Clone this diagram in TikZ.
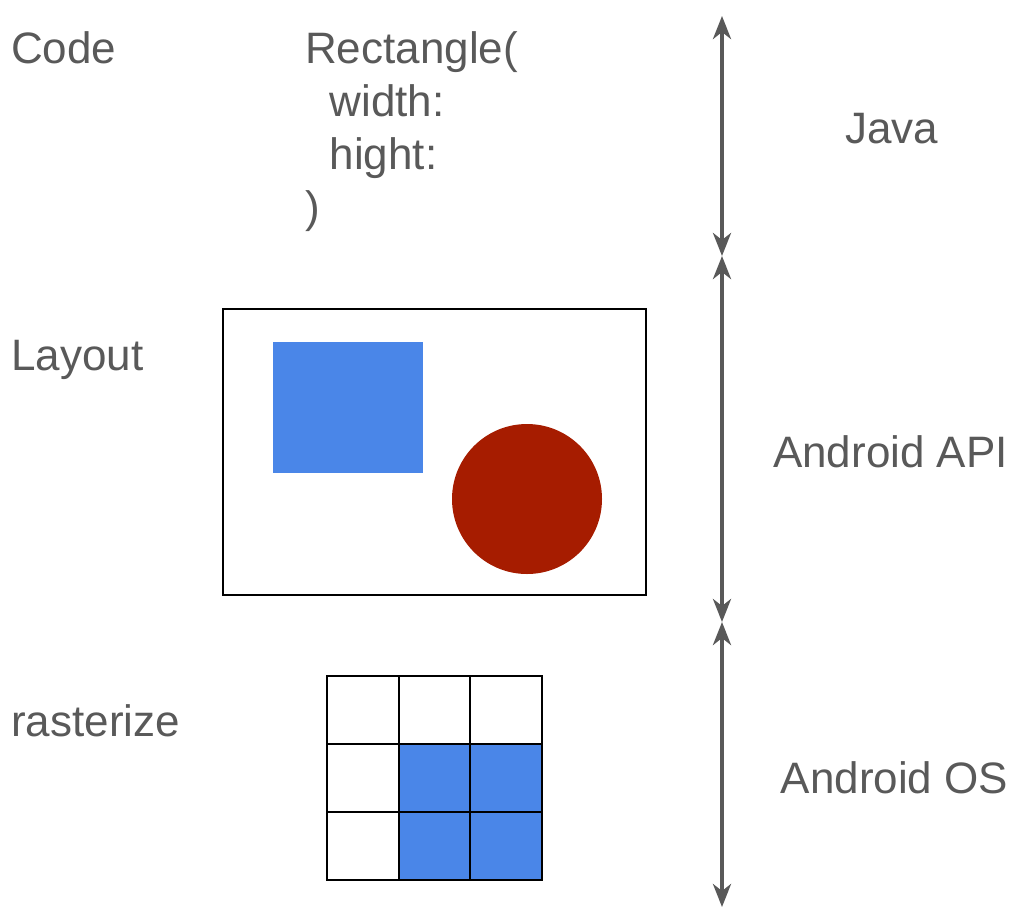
\documentclass[tikz,border=0pt]{standalone}
\usepackage{fontspec}
\setmainfont{Liberation Sans}
\usetikzlibrary{arrows.meta, positioning}
\definecolor{textgray}{HTML}{595959}
\definecolor{shapeblue}{HTML}{4A86E8}
\definecolor{shapered}{HTML}{A61C00}

\begin{document}
\begin{tikzpicture}[
			x=1pt, y=-1pt,
			every node/.style={font=\fontsize{44}{53}\selectfont, text=textgray, inner sep=0pt},
			rowtext/.style={anchor=base west},
			layertext/.style={anchor=base},
			frame/.style={draw=black, line width=2pt},
			pixel/.style={draw=black, line width=2pt},
			arrow/.style={{Stealth[length=23pt,width=18pt,inset=7pt]}-{Stealth[length=23pt,width=18pt,inset=7pt]}, draw=textgray, line width=4pt}
			]
			\useasboundingbox (0,0) rectangle (1028,922);

			\node[rowtext] (code) at (11,63) {Code};
			\node[rowtext] (layout) at (11,370) {Layout};
			\node[rowtext] (raster) at (11,736) {rasterize};

			\node[anchor=north west, align=left] (rect) at (305,31) {Rectangle(\\\hspace*{24.5pt}width:\\\hspace*{24.5pt}hight:\\)};

			% layout
			\draw[frame] (223,309) rectangle (646,595);
			\fill[shapeblue] (273,342) rectangle (423,473);
			\fill[shapered] (527,499) circle[radius=75];

			% pixels
			\fill[shapeblue] (398.67,744) rectangle (542,880);
			\foreach \col in {0,1,2}
				\foreach \row in {0,1,2}
					\draw[pixel] ({327+\col*71.67},{676+\row*68}) rectangle +(71.67,68);

			% layers
			\coordinate (top) at (722,16);
			\coordinate (api) at (722,256);
			\coordinate (os) at (722,622);
			\coordinate (bottom) at (722,907);

			\draw[arrow] (top) -- (api);
			\draw[arrow] (api) -- (os);
			\draw[arrow] (os) -- (bottom);

			\node[layertext] (java) at (891.5,143) {Java};
			\node[layertext] (android) at (890.5,467) {Android API};
			\node[layertext] (system) at (894.5,793) {Android OS};

		\end{tikzpicture}
\end{document}
